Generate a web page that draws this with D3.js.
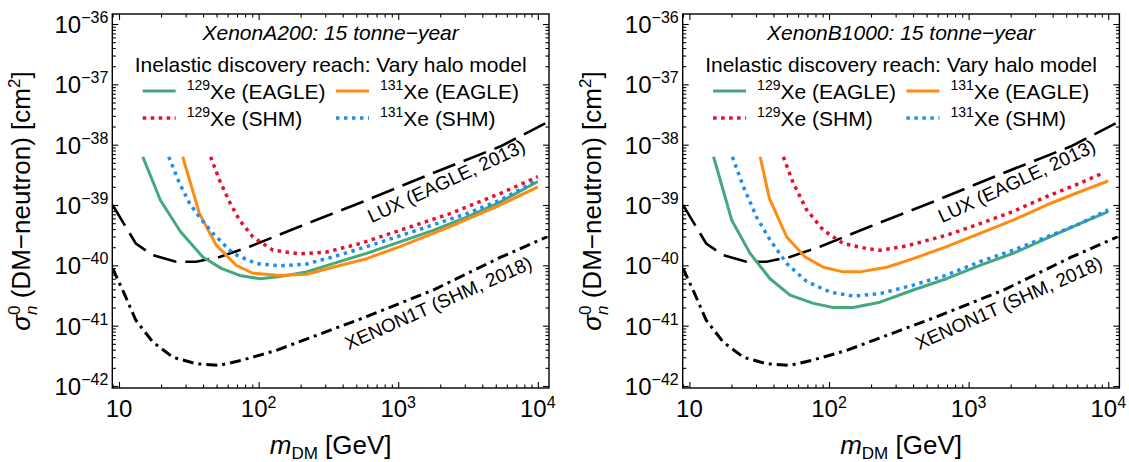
<!DOCTYPE html>
<html><head><meta charset="utf-8">
<script src="https://cdn.jsdelivr.net/npm/d3@7/dist/d3.min.js"></script>
<style>
body{margin:0;background:#fff}
svg{display:block}
text{font-family:"Liberation Sans",Arial,Helvetica,sans-serif;fill:#000}
</style></head>
<body><svg id="chart" width="1129" height="462"></svg>
<script>
// ---------------- data ----------------
const panelTitles = ["XenonA200: 15 tonne\u2212year", "XenonB1000: 15 tonne\u2212year"];
const legendTitle = "Inelastic discovery reach: Vary halo model";
const seriesNames = [["129","Xe (EAGLE)"],["131","Xe (EAGLE)"],["129","Xe (SHM)"],["131","Xe (SHM)"]];

// Existing limits (same in both panels)
const luxMass  = [9.0, 13.2, 17.4, 25.6, 35.7, 52.5, 86, 197, 593, 1780, 5370, 11300];
const luxSigma = [1.0e-39, 2.3e-40, 1.48e-40, 1.15e-40, 1.15e-40, 1.38e-40, 2.04e-40, 4.4e-40, 1.2e-39, 3.4e-39, 9.3e-39, 2.25e-38];
const x1tMass  = [9.0, 10.9, 13.2, 17.4, 24.3, 35.7, 52.5, 77, 134, 259, 593, 1780, 5370, 11600];
const x1tSigma = [8.9e-41, 3.4e-41, 1.23e-41, 5.4e-42, 3.0e-42, 2.34e-42, 2.2e-42, 2.7e-42, 3.9e-42, 6.9e-42, 1.41e-41, 3.9e-41, 1.35e-40, 2.95e-40];

// XenonA200 panel
const a129EagleMass  = [14.8, 19.8, 27.6, 39.8, 54, 73, 102, 142, 220, 341, 593, 1028, 1780, 3100, 5370, 10000];
const a129EagleSigma = [6.3e-39, 1.2e-39, 3.6e-40, 1.38e-40, 8.9e-41, 6.8e-41, 6.0e-41, 6.5e-41, 7.8e-41, 1.07e-40, 1.58e-40, 2.45e-40, 3.8e-40, 6.3e-40, 1.12e-39, 2.45e-39];
const a131EagleMass  = [28.6, 37.7, 49.7, 69.2, 91, 142, 220, 341, 593, 1028, 2350, 5370, 10000];
const a131EagleSigma = [6.3e-39, 7.2e-40, 2.16e-40, 1.0e-40, 7.4e-41, 6.8e-41, 7.1e-41, 9.3e-41, 1.29e-40, 2.04e-40, 4.4e-40, 1.0e-39, 2.0e-39];
const a129ShmMass    = [45.3, 52.5, 62, 73, 91, 127, 197, 306, 531, 1028, 2350, 5370, 10000];
const a129ShmSigma   = [6.3e-39, 2.57e-39, 1.12e-39, 5.6e-40, 2.95e-40, 1.78e-40, 1.55e-40, 1.66e-40, 2.29e-40, 3.8e-40, 7.2e-40, 1.55e-39, 2.95e-39];
const a131ShmMass    = [22.7, 27.1, 32, 37.7, 47, 65.3, 96.2, 142, 220, 341, 593, 1355, 3100, 5370, 10000];
const a131ShmSigma   = [6.3e-39, 2.3e-39, 1.07e-39, 6.3e-40, 3.4e-40, 1.58e-40, 1.07e-40, 9.8e-41, 1.05e-40, 1.38e-40, 2.04e-40, 3.8e-40, 7.2e-40, 1.2e-39, 2.6e-39];

// XenonB1000 panel
const b129EagleMass  = [14.9, 20.1, 27.2, 37.8, 52.6, 77.3, 107, 149, 232, 401, 695, 1205, 2084, 3614, 6266, 10000];
const b129EagleSigma = [6.3e-39, 5.6e-40, 1.58e-40, 6.0e-41, 3.2e-41, 2.34e-41, 2.0e-41, 2.0e-41, 2.45e-41, 3.9e-41, 6.0e-41, 1.0e-40, 1.58e-40, 2.8e-40, 4.9e-40, 7.8e-40];
const b131EagleMass  = [32.1, 37.4, 49.8, 67.3, 91.2, 126.5, 166.7, 259, 401, 695, 1205, 2084, 3614, 6266, 10000];
const b131EagleSigma = [6.3e-39, 1.29e-39, 2.95e-40, 1.38e-40, 9.3e-41, 7.8e-41, 7.8e-41, 9.3e-41, 1.29e-40, 2.04e-40, 3.4e-40, 5.6e-40, 1.0e-39, 1.66e-39, 2.5e-39];
const b129ShmMass    = [47.1, 55.5, 69.2, 91.2, 126.5, 186, 232, 360, 695, 1205, 2084, 3614, 6266, 8950];
const b129ShmSigma   = [6.3e-39, 2.3e-39, 8.3e-40, 3.8e-40, 2.3e-40, 1.9e-40, 1.78e-40, 2.1e-40, 3.16e-40, 4.9e-40, 7.8e-40, 1.38e-39, 2.3e-39, 3.3e-39];
const b131ShmMass    = [20.3, 24.4, 30.3, 37.8, 49.8, 69.2, 102, 149, 232, 401, 695, 1205, 2084, 3614, 6266, 10000];
const b131ShmSigma   = [6.3e-39, 2.0e-39, 6.3e-40, 2.63e-40, 1.07e-40, 5.4e-41, 3.6e-41, 3.1e-41, 3.4e-41, 4.7e-41, 6.9e-41, 1.15e-40, 1.78e-40, 2.95e-40, 4.9e-40, 8.3e-40];

const xTickValues = [10, 100, 1000, 10000];
const xTickBase   = ["10", "10", "10", "10"];
const xTickExp    = ["", "2", "3", "4"];
const yTickValues = [1e-36, 1e-37, 1e-38, 1e-39, 1e-40, 1e-41, 1e-42];
const yTickExp    = ["\u221236", "\u221237", "\u221238", "\u221239", "\u221240", "\u221241", "\u221242"];
const luxLabel = "LUX (EAGLE, 2013)";
const x1tLabel = "XENON1T (SHM, 2018)";

// ---------------- styles / layout ----------------
const styles = [
  {color:"#45a87c", width:3, dash:null},        // 129 EAGLE
  {color:"#ff8c10", width:3, dash:null},        // 131 EAGLE
  {color:"#e8102c", width:3.5, dash:"3.5,4.5"}, // 129 SHM
  {color:"#1e8ff0", width:3.5, dash:"3.5,4.5"}  // 131 SHM
];
const panelData = [
  [[a129EagleMass,a129EagleSigma],[a131EagleMass,a131EagleSigma],[a129ShmMass,a129ShmSigma],[a131ShmMass,a131ShmSigma]],
  [[b129EagleMass,b129EagleSigma],[b131EagleMass,b131EagleSigma],[b129ShmMass,b129ShmSigma],[b131ShmMass,b131ShmSigma]]
];
const panelX0 = [112.3, 682.7];
const PW = 436.7, Y0 = 14, Y1 = 388;

const svg = d3.select("#chart");
const y = d3.scaleLog().domain([Math.pow(10,-42.033), Math.pow(10,-35.834)]).range([Y1, Y0]);

function minorTicks(lo, hi){
  const out=[];
  for(let e=Math.floor(Math.log10(lo))-1;e<=Math.ceil(Math.log10(hi));e++)
    for(let k=2;k<=9;k++){const v=k*Math.pow(10,e); if(v>lo&&v<hi) out.push(v);}
  return out;
}

panelX0.forEach((x0, pi) => {
  const x = d3.scaleLog().domain([Math.pow(10,0.952), Math.pow(10,4.08)]).range([x0, x0+PW]);
  const g = svg.append("g");
  const clipId = "clip"+pi;
  svg.append("defs").append("clipPath").attr("id",clipId)
    .append("rect").attr("x",x0).attr("y",Y0).attr("width",PW).attr("height",Y1-Y0);

  const xd = x.domain(), yd = y.domain();
  const xMin = minorTicks(xd[0], xd[1]), yMin = minorTicks(yd[0], yd[1]);
  const clean = sel => { sel.select(".domain").remove(); sel.selectAll("text").remove(); sel.selectAll("line").attr("stroke","#000").attr("stroke-width",1.1); };

  // major + minor ticks, inward on all four sides
  [[d3.axisBottom, Y1],[d3.axisTop, Y0]].forEach(([ax, pos]) => {
    g.append("g").attr("transform",`translate(0,${pos})`).call(ax(x).tickValues(xTickValues).tickSize(-6)).call(clean);
    g.append("g").attr("transform",`translate(0,${pos})`).call(ax(x).tickValues(xMin).tickSize(-3.5)).call(clean);
  });
  [[d3.axisLeft, x0],[d3.axisRight, x0+PW]].forEach(([ax, pos]) => {
    g.append("g").attr("transform",`translate(${pos},0)`).call(ax(y).tickValues(yTickValues).tickSize(-6)).call(clean);
    g.append("g").attr("transform",`translate(${pos},0)`).call(ax(y).tickValues(yMin).tickSize(-3.5)).call(clean);
  });

  // tick labels
  xTickValues.forEach((v,i) => {
    const t = g.append("text").attr("x",x(v)).attr("y",Y1+29).attr("text-anchor","middle").style("font-size","24px");
    t.append("tspan").text(xTickBase[i]);
    if (xTickExp[i]) t.append("tspan").attr("dy",-9).style("font-size","16px").text(xTickExp[i]);
  });
  yTickValues.forEach((v,i) => {
    const t = g.append("text").attr("x",x0-4).attr("y",y(v)+9).attr("text-anchor","end").style("font-size","24px");
    t.append("tspan").text("10");
    t.append("tspan").attr("dy",-10).style("font-size","16px").text(yTickExp[i]);
  });

  // frame
  g.append("rect").attr("x",x0).attr("y",Y0).attr("width",PW).attr("height",Y1-Y0)
    .attr("fill","none").attr("stroke","#000").attr("stroke-width",1.4);

  // axis titles
  const xt = g.append("text").attr("x",x0+PW/2).attr("y",Y1+66).attr("text-anchor","middle").style("font-size","26px");
  xt.append("tspan").style("font-style","italic").text("m");
  xt.append("tspan").attr("dy",5).style("font-size","17px").text("DM");
  xt.append("tspan").attr("dy",-5).text(" [GeV]");

  const yt = g.append("text").attr("transform",`translate(${x0-82},${(Y0+Y1)/2}) rotate(-90)`)
    .attr("text-anchor","middle").style("font-size","26px");
  yt.append("tspan").style("font-style","italic").text("\u03c3");
  yt.append("tspan").attr("dy",-10).style("font-size","17px").text("0");
  yt.append("tspan").attr("dx",-9.5).attr("dy",17).style("font-size","17px").style("font-style","italic").text("n");
  yt.append("tspan").attr("dy",-7).text(" (DM\u2212neutron) [cm");
  yt.append("tspan").attr("dy",-10).style("font-size","17px").text("2");
  yt.append("tspan").attr("dy",10).text("]");

  // curves
  const line = d3.line().x(d=>x(d[0])).y(d=>y(d[1]));
  const cg = g.append("g").attr("clip-path",`url(#${clipId})`);
  cg.append("path").datum(d3.zip(luxMass, luxSigma)).attr("d",line)
    .attr("fill","none").attr("stroke","#000").attr("stroke-width",2.6).attr("stroke-dasharray","24,9");
  cg.append("path").datum(d3.zip(x1tMass, x1tSigma)).attr("d",line)
    .attr("fill","none").attr("stroke","#000").attr("stroke-width",3).attr("stroke-dasharray","11,5,3,5");
  panelData[pi].forEach((s,i) => {
    const st = styles[i];
    const p = cg.append("path").datum(d3.zip(s[0], s[1])).attr("d",line)
      .attr("fill","none").attr("stroke",st.color).attr("stroke-width",st.width).attr("stroke-linejoin","round");
    if (st.dash) p.attr("stroke-dasharray",st.dash);
  });

  // curve labels
  g.append("text").attr("transform",`translate(${x0+334},${181}) rotate(-25)`).attr("text-anchor","middle")
    .attr("dy","0.35em").style("font-size","19px").text(luxLabel);
  g.append("text").attr("transform",`translate(${x0+326},${303}) rotate(-24)`).attr("text-anchor","middle")
    .attr("dy","0.35em").style("font-size","19px").text(x1tLabel);

  // title + legend
  g.append("text").attr("x",x0+PW/2).attr("y",40).attr("text-anchor","middle")
    .style("font-size","21px").style("font-style","italic").text(panelTitles[pi]);
  g.append("text").attr("x",x0+PW/2).attr("y",72).attr("text-anchor","middle")
    .style("font-size","21px").text(legendTitle);
  const legPos = [[30.4,91],[223.7,91],[30.4,118],[223.7,118]];
  seriesNames.forEach((nm,i) => {
    const [lx, ly] = legPos[i]; const st = styles[i];
    const l = g.append("line").attr("x1",x0+lx).attr("x2",x0+lx+33).attr("y1",ly).attr("y2",ly)
      .attr("stroke",st.color).attr("stroke-width",st.width);
    if (st.dash) l.attr("stroke-dasharray",st.dash);
    const t = g.append("text").attr("x",x0+lx+44).attr("y",ly+8).style("font-size","21px");
    t.append("tspan").attr("dy",-9).style("font-size","14px").text(nm[0]);
    t.append("tspan").attr("dy",9).text(nm[1]);
  });
});
</script></body></html>
